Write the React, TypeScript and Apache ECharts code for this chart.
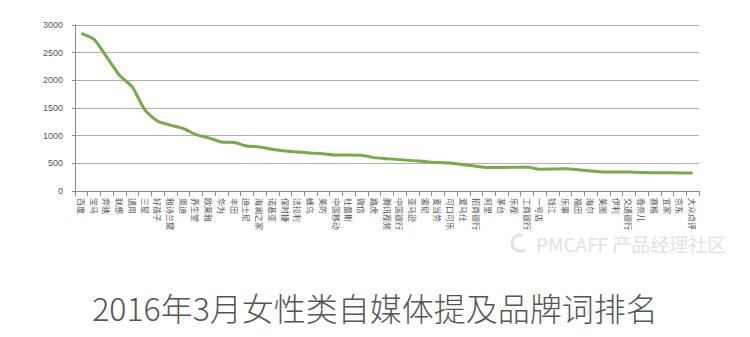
import React, { useEffect, useRef } from "react";
import * as echarts from "echarts";

const brands: string[] = [
  "百度", "宝马", "奔驰", "联想", "通用", "三星", "好孩子", "雅诗兰黛", "奥迪", "养生堂",
  "欧莱雅", "华为", "丰田", "迪士尼", "海澜之家", "诺基亚", "保时捷", "法拉利", "蜂鸟", "美的",
  "中国移动", "杜蕾斯", "微信", "路虎", "腾讯视频", "中国银行", "亚马逊", "索尼", "麦当劳", "可口可乐",
  "爱马仕", "招商银行", "阿里", "茅台", "乐视", "工商银行", "一号店", "钱江", "乐事", "福田",
  "海尔", "美图", "伊利", "交通银行", "香奈儿", "赛格", "宜家", "京东", "大众点评",
];

const mentions: number[] = [
  2850, 2740, 2420, 2090, 1880, 1460, 1260, 1190, 1130, 1020,
  960, 887, 875, 814, 796, 754, 723, 705, 687, 675,
  650, 650, 648, 603, 585, 567, 549, 531, 513, 506,
  476, 446, 425, 425, 430, 432, 393, 398, 403, 385,
  361, 345, 343, 343, 333, 331, 331, 326, 325,
];

const yTicks = { min: 0, max: 3000, interval: 500 };
const titleText = "2016年3月女性类自媒体提及品牌词排名";
const watermarkText = "PMCAFF 产品经理社区";

export default function App() {
  const ref = useRef<HTMLDivElement>(null);
  useEffect(() => {
    if (!ref.current) return;
    const chart = echarts.init(ref.current, null, { renderer: "svg" });
    chart.setOption({
      animation: false,
      backgroundColor: "#ffffff",
      grid: { left: 75, right: 51, top: 25, bottom: 146, containLabel: false },
      xAxis: {
        type: "category",
        data: brands,
        boundaryGap: true,
        axisLine: { show: true, lineStyle: { color: "#8a8a8a", width: 1 } },
        axisTick: { show: true, length: 5, alignWithLabel: false, lineStyle: { color: "#8a8a8a" } },
        axisLabel: {
          interval: 0,
          rotate: -90,
          margin: 7,
          fontSize: 8,
          color: "#555",
          fontFamily: "Noto Sans CJK SC",
        },
      },
      yAxis: {
        type: "value",
        min: yTicks.min,
        max: yTicks.max,
        interval: yTicks.interval,
        axisLine: { show: true, lineStyle: { color: "#8a8a8a", width: 1 } },
        axisTick: { show: true, length: 3, lineStyle: { color: "#8a8a8a" } },
        axisLabel: {
          fontSize: 9,
          color: "#555",
          margin: 12,
          fontFamily: "Liberation Sans",
          formatter: (v: number) => String(v),
        },
        splitLine: { show: true, lineStyle: { color: "#b0b0b0", width: 1 } },
      },
      series: [
        {
          type: "line",
          data: mentions,
          symbol: "none",
          smooth: 0.2,
          lineStyle: { color: "#74ad47", width: 3 },
        },
      ],
      graphic: [
        {
          type: "arc",
          shape: { cx: 520, cy: 243, r: 8, startAngle: Math.PI * 0.3, endAngle: Math.PI * 1.6 },
          style: { stroke: "#e2e2e2", lineWidth: 3, fill: "none" },
        },
        {
          type: "text",
          x: 536,
          y: 243,
          style: {
            text: watermarkText,
            fontSize: 19,
            fill: "#e2e2e2",
            fontFamily: "Noto Sans CJK SC",
            verticalAlign: "middle",
          },
        },
        {
          type: "text",
          x: 375,
          y: 307,
          style: {
            text: titleText,
            fontSize: 32,
            fontWeight: 300,
            fill: "#555555",
            fontFamily: "Noto Sans CJK SC",
            align: "center",
            verticalAlign: "middle",
          },
        },
      ],
    });
    return () => chart.dispose();
  }, []);
  return <div ref={ref} style={{ width: 750, height: 337, position: "absolute", left: 0, top: 0 }} />;
}
